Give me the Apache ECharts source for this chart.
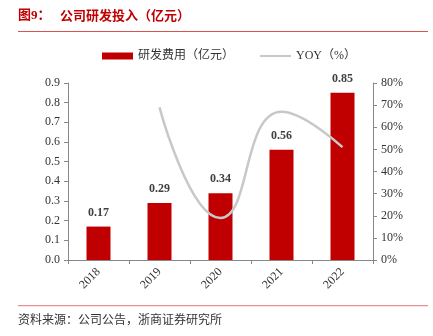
<!DOCTYPE html>
<html>
<head>
<meta charset="utf-8">
<script src="https://cdn.jsdelivr.net/npm/echarts@6/dist/echarts.min.js"></script>
<style>
html,body{margin:0;padding:0;background:#fff;}
#chart{width:433px;height:336px;}
</style>
</head>
<body>
<div id="chart"></div>
<script>
// R&D spend (100M CNY) and year-on-year growth (%)
const years = ['2018', '2019', '2020', '2021', '2022'];
const rdSpend = [0.17, 0.29, 0.34, 0.56, 0.85];
const yoyGrowth = [null, 69, 19, 67, 51];
const leftTicks = { min: 0, max: 0.9, interval: 0.1 };
const rightTicks = { min: 0, max: 80, interval: 10 };

const serif = '"Liberation Serif", "DejaVu Serif", serif';
const cjk = '"Noto Sans CJK SC", sans-serif';
const mixed = '"Liberation Serif", "Noto Sans CJK SC", serif';

const chart = echarts.init(document.getElementById('chart'));
chart.setOption({
  animation: false,
  backgroundColor: '#fff',
  graphic: [
    { type: 'text', left: 18, top: 9, style: { text: '图9：', fill: '#C00000', font: 'bold 13px ' + mixed } },
    { type: 'text', left: 60, top: 9, style: { text: '公司研发投入（亿元）', fill: '#C00000', font: 'bold 13px ' + cjk } },
    { type: 'rect', shape: { x: 18, y: 31, width: 410, height: 1 }, style: { fill: '#D9534F' } },
    { type: 'rect', shape: { x: 18, y: 305, width: 410, height: 1.2 }, style: { fill: '#E89090' } },
    { type: 'text', left: 18, top: 313, style: { text: '资料来源：公司公告，浙商证券研究所', fill: '#333', font: '12px ' + cjk } }
  ],
  legend: {
    top: 45,
    left: 97,
    itemGap: 26,
    itemWidth: 31,
    itemHeight: 7,
    textStyle: { fontFamily: mixed, fontSize: 12, color: '#333' },
    data: [
      { name: '研发费用（亿元）', icon: 'rect' },
      { name: 'YOY（%）', icon: 'path://M0,0 L31,0 L31,2 L0,2 Z' }
    ]
  },
  grid: { left: 68, right: 60, top: 83, bottom: 76 },
  xAxis: {
    type: 'category',
    data: years,
    axisLine: { lineStyle: { color: '#888' } },
    axisTick: { show: true, length: 4, lineStyle: { color: '#888' } },
    axisLabel: { rotate: 45, fontFamily: serif, fontSize: 12, color: '#333', margin: 10 }
  },
  yAxis: [
    {
      type: 'value',
      min: leftTicks.min, max: leftTicks.max, interval: leftTicks.interval,
      axisLine: { show: true, lineStyle: { color: '#888' } },
      axisTick: { show: true, length: 4, lineStyle: { color: '#888' } },
      splitLine: { show: false },
      axisLabel: { fontFamily: serif, fontSize: 12, color: '#333', margin: 8, formatter: v => v.toFixed(1) }
    },
    {
      type: 'value',
      min: rightTicks.min, max: rightTicks.max, interval: rightTicks.interval,
      axisLine: { show: true, lineStyle: { color: '#888' } },
      axisTick: { show: true, length: 4, lineStyle: { color: '#888' } },
      splitLine: { show: false },
      axisLabel: { fontFamily: serif, fontSize: 12, color: '#333', margin: 8, formatter: v => v + '%' }
    }
  ],
  series: [
    {
      name: '研发费用（亿元）',
      type: 'bar',
      data: rdSpend,
      barWidth: 24,
      itemStyle: { color: '#C00000' },
      label: {
        show: true, position: 'top', distance: 8,
        fontFamily: serif, fontWeight: 'bold', fontSize: 12, color: '#404040',
        formatter: p => p.value.toFixed(2)
      }
    },
    {
      name: 'YOY（%）',
      type: 'line',
      yAxisIndex: 1,
      data: yoyGrowth,
      smooth: 0.5,
      showSymbol: false,
      symbol: 'none',
      lineStyle: { color: '#C8C8C8', width: 2.5 },
      itemStyle: { color: '#C8C8C8' }
    }
  ]
});
</script>
</body>
</html>
